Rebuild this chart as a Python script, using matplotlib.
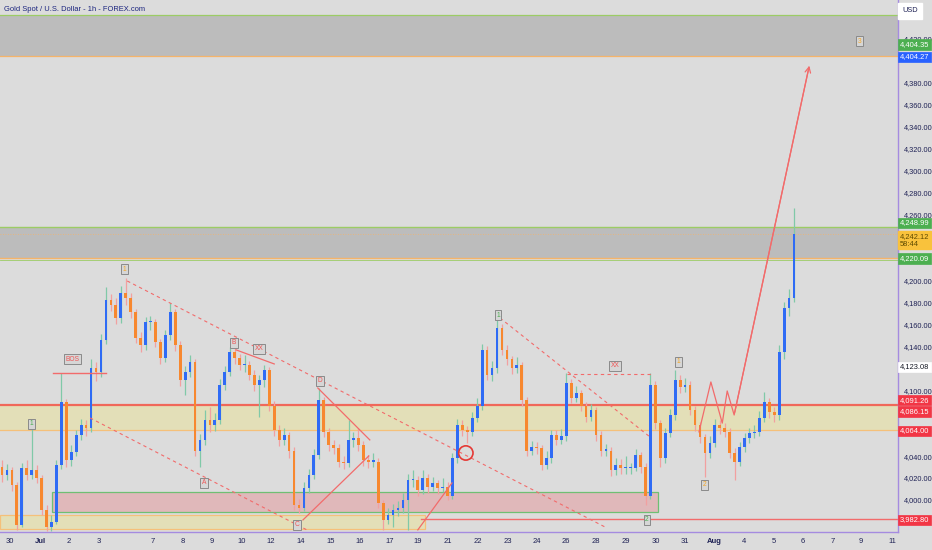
import numpy as np
import matplotlib.pyplot as plt
from matplotlib.patches import Rectangle, Ellipse
import matplotlib.transforms as mtrans

plt.rcParams['font.family'] = ['Liberation Sans', 'DejaVu Sans']

# Gold spot, 4h candles (Jun 30 .. Aug 5)
first_open = 4030
closes = [4023, 4027, 4014, 3977, 4029, 4023, 4027, 4020, 3991, 3975,
          3980, 4032, 4089, 4036, 4044, 4059, 4068, 4066, 4120, 4117,
          4146, 4182, 4178, 4166, 4189, 4184, 4171, 4148, 4141, 4162,
          4162, 4144, 4129, 4150, 4171, 4141, 4109, 4117, 4126, 4045,
          4055, 4073, 4068, 4073, 4105, 4117, 4135, 4129, 4123, 4123,
          4114, 4105, 4109, 4118, 4086, 4064, 4055, 4059, 4045, 3995,
          3993, 4011, 4023, 4041, 4091, 4062, 4050, 4047, 4035, 4034,
          4055, 4056, 4050, 4036, 4035, 4035, 3997, 3982, 3986, 3991,
          3993, 4000, 4018, 4018, 4009, 4020, 4012, 4015, 4011, 4012,
          4004, 4038, 4068, 4064, 4062, 4075, 4086, 4137, 4114, 4120,
          4157, 4137, 4128, 4120, 4123, 4091, 4045, 4048, 4047, 4032,
          4038, 4059, 4055, 4058, 4107, 4093, 4097, 4086, 4076, 4082,
          4059, 4045, 4045, 4027, 4032, 4029, 4029, 4029, 4041, 4030,
          4004, 4105, 4070, 4038, 4061, 4077, 4109, 4103, 4105, 4082,
          4068, 4057, 4043, 4052, 4068, 4066, 4062, 4043, 4035, 4048,
          4056, 4061, 4062, 4075, 4089, 4080, 4077, 4135, 4175, 4184,
          4242.12]
highs = [4036, 4033, 4030, 4016, 4034, 4036, 4068, 4032, 4023, 3995,
         3986, 4036, 4116, 4092, 4050, 4064, 4074, 4073, 4128, 4126,
         4151, 4194, 4188, 4184, 4195, 4202, 4189, 4174, 4153, 4167,
         4168, 4165, 4147, 4155, 4179, 4174, 4145, 4122, 4132, 4128,
         4060, 4082, 4085, 4079, 4110, 4122, 4139, 4139, 4133, 4132,
         4127, 4118, 4114, 4123, 4121, 4090, 4068, 4066, 4062, 4048,
         4001, 4016, 4028, 4046, 4102, 4094, 4066, 4055, 4051, 4040,
         4073, 4062, 4066, 4054, 4041, 4043, 4038, 4000, 3993, 3996,
         3999, 4006, 4024, 4027, 4022, 4027, 4024, 4021, 4018, 4020,
         4016, 4043, 4074, 4073, 4067, 4080, 4093, 4142, 4140, 4127,
         4167, 4160, 4141, 4131, 4130, 4126, 4094, 4054, 4053, 4050,
         4045, 4064, 4064, 4065, 4116, 4110, 4104, 4100, 4089, 4087,
         4085, 4063, 4051, 4048, 4038, 4037, 4040, 4034, 4046, 4044,
         4034, 4116, 4108, 4073, 4066, 4083, 4118, 4114, 4111, 4108,
         4086, 4071, 4060, 4058, 4074, 4073, 4070, 4066, 4047, 4053,
         4061, 4066, 4068, 4081, 4098, 4093, 4085, 4141, 4180, 4192,
         4266]
lows = [4016, 4018, 4008, 3973, 3975, 4018, 4019, 4015, 3986, 3972,
        3972, 3978, 4028, 4030, 4031, 4040, 4055, 4058, 4062, 4108,
        4112, 4142, 4172, 4160, 4161, 4178, 4166, 4143, 4135, 4137,
        4155, 4139, 4124, 4126, 4146, 4136, 4104, 4096, 4112, 4040,
        4030, 4050, 4062, 4063, 4069, 4100, 4113, 4124, 4118, 4117,
        4109, 4099, 4076, 4103, 4081, 4058, 4049, 4050, 4038, 3991,
        3988, 3990, 4006, 4019, 4037, 4057, 4045, 4042, 4030, 4028,
        4030, 4048, 4045, 4031, 4029, 4030, 3993, 3973, 3978, 3975,
        3985, 3988, 3973, 4012, 4004, 4005, 4006, 4008, 4005, 4007,
        4000, 4001, 4034, 4058, 4052, 4058, 4071, 4082, 4109, 4108,
        4116, 4132, 4123, 4115, 4116, 4086, 4040, 4041, 4042, 4027,
        4028, 4034, 4050, 4051, 4054, 4088, 4089, 4081, 4071, 4072,
        4054, 4040, 4040, 4022, 4023, 4024, 4024, 4024, 4026, 4025,
        3995, 4001, 4065, 4030, 4034, 4057, 4073, 4097, 4098, 4077,
        4063, 4052, 4021, 4038, 4048, 4060, 4057, 4038, 4018, 4031,
        4044, 4052, 4056, 4058, 4071, 4075, 4071, 4073, 4128, 4168,
        4180]

# date labels on the bar axis (4h bar index)
day_labels = ['30', 'Jul', '2', '3', '7', '8', '9', '10', '12', '14', '15', '16',
              '17', '19', '21', '22', '23', '24', '26', '28', '29', '30', '31',
              'Aug', '4', '5', '6', '7', '9', '11']
day_pos = [1.6, 7.7, 13.5, 19.6, 30.5, 36.6, 42.4, 48.5, 54.3, 60.4, 66.5, 72.3,
           78.4, 84.0, 90.1, 96.2, 102.2, 108.1, 113.9, 120.0, 126.1, 132.1, 138.0,
           143.8, 149.9, 156.0, 161.8, 167.9, 173.5, 179.8]

# price scale labels left visible (others sit under the price tags)
price_ticks = [4000, 4020, 4040, 4100, 4140, 4160, 4180, 4200, 4260, 4280,
               4300, 4320, 4340, 4360, 4380, 4420]

# zones (low, high)
top_zone = (4404.27, 4442)
sell_zone = (4220.09, 4248.99)
mid_zone = (4064.00, 4086.15)
pink_zone = (3989, 4007)
low_zone = (3973.5, 3986.3)
support = 3982.80

# right-side price tags: value, face colour, text colour, shown at
tags = [('4,404.35', '#4caf50', 'white', 4415.0),
        ('4,404.27', '#2962ff', 'white', 4403.6),
        ('4,248.99', '#4caf50', 'white', 4252.5),
        ('4,220.09', '#4caf50', 'white', 4220.0),
        ('4,123.08', 'white', '#131722', 4121.2),
        ('4,091.26', '#f23645', 'white', 4091.0),
        ('4,086.15', '#f23645', 'white', 4080.4),
        ('4,064.00', '#f23645', 'white', 4062.9),
        ('3,982.80', '#f23645', 'white', 3981.8)]

# wave / pattern labels on the chart
marks = [('1', 5.9, 4069.2, '#4caf50'), ('BOS', 14.3, 4128.4, '#f05555'),
         ('1', 24.8, 4210.4, '#f5a623'), ('B', 46.9, 4143.0, '#f05555'),
         ('XX', 51.9, 4137.6, '#f05555'), ('A', 40.8, 4015.5, '#f05555'),
         ('C', 59.6, 3977.2, '#f05555'), ('D', 64.2, 4108.4, '#f05555'),
         ('1', 100.2, 4168.5, '#4caf50'), ('XX', 123.8, 4122.1, '#f05555'),
         ('1', 136.6, 4125.7, '#f5a623'), ('2', 142.0, 4013.7, '#f5a623'),
         ('2', 130.3, 3981.8, '#4caf50'), ('3', 173.3, 4418.1, '#f5a623')]

bg = '#dcdcdc'
purple = '#a58be0'
red = '#f26b6b'

fig = plt.figure(figsize=(9.32, 5.5), dpi=100, facecolor=bg)
ax = fig.add_axes([0, 18 / 550, 898 / 932, 532 / 550], facecolor=bg)
ax.set_xlim(-0.4, 181.0)
ax.set_ylim(3970.8, 4455.5)

# zones
ax.axhspan(*top_zone, color='#bcbcbc', zorder=1, lw=0)
ax.axhline(top_zone[1], color='#9ccc65', lw=0.9, zorder=2)
ax.axhline(top_zone[0], color='#f5b46a', lw=0.9, zorder=2)
ax.axhspan(*sell_zone, color='#bcbcbc', zorder=1, lw=0)
ax.axhline(sell_zone[1], color='#9ccc65', lw=1.0, zorder=2)
ax.axhline(sell_zone[0], color='#f5b46a', lw=1.0, zorder=2)
ax.axhline(sell_zone[0] - 1.2, color='#9ccc65', lw=0.6, zorder=2)
ax.axhline(closes[-1], color='#f5b46a', lw=0.6, ls=(0, (1, 2)), zorder=2)
ax.axhspan(*mid_zone, color='#e3dfb8', zorder=1, lw=0)
ax.axhline(mid_zone[1], color='#f0685a', lw=1.6, zorder=2)
ax.axhline(mid_zone[0], color='#f5c07a', lw=0.9, zorder=2)
ax.add_patch(Rectangle((10.1, pink_zone[0]), 122.4, pink_zone[1] - pink_zone[0],
                       fc='#e0b8ba', ec='#6fbf73', lw=0.9, zorder=1.5))
ax.add_patch(Rectangle((-0.4, low_zone[0]), 85.9, low_zone[1] - low_zone[0],
                       fc='#e3dfb8', ec='#f5c07a', lw=0.9, zorder=1.2))
ax.plot([84.6, 181.0], [support, support], color=red, lw=1.0, zorder=2)

# candles
opens = [first_open] + closes[:-1]
idx = np.arange(len(closes))
o = np.array(opens, dtype=float)
c = np.array(closes, dtype=float)
up = c >= o
wick_col = np.where(up, '#80c9a8', '#f2a0a0')
body_col = np.where(up, '#2f6bf5', '#f7882f')
ax.vlines(idx, lows, highs, colors=wick_col, lw=0.9, zorder=3)
ax.bar(idx, np.maximum(np.abs(c - o), 1.0), bottom=np.minimum(o, c), width=0.55,
       color=body_col, zorder=4)

# drawings
dash = (0, (3, 3))
ax.plot([10.3, 21.0], [4116, 4116], color=red, lw=1.0, zorder=5)
ax.plot([25.3, 121.8], [4199.5, 3975.4], color=red, lw=0.8, ls=dash, zorder=5)
ax.plot([17.8, 61.6], [4074.7, 3972.7], color=red, lw=0.8, ls=dash, zorder=5)
ax.plot([100.6, 130.9], [4165.8, 4057.4], color=red, lw=0.8, ls=dash, zorder=5)
ax.plot([114.1, 131.5], [4115, 4115], color=red, lw=0.8, ls=dash, zorder=5)
ax.plot([47.3, 55.0], [4136.7, 4123.9], color=red, lw=0.9, zorder=5)
ax.plot([63.8, 74.3], [4102, 4054.7], color=red, lw=0.9, zorder=5)
ax.plot([60.8, 74.1], [3981.8, 4040.1], color=red, lw=0.9, zorder=5)
ax.plot([84.0, 90.9], [3972.7, 4015.5], color=red, lw=0.9, zorder=5)
ax.add_patch(Ellipse((93.7, 4042.8), 2.9, 13, fc='none', ec='#e53935', lw=1.2, zorder=6))

zig_x = [140.8, 143.2, 145.5, 146.5, 147.9, 163.0]
zig_y = [4062, 4107.5, 4070, 4099.3, 4077.4, 4394]
ax.plot(zig_x, zig_y, color=red, lw=0.9, zorder=5)
ax.annotate('', xy=(163.2, 4398.1), xytext=(zig_x[-2], zig_y[-2]),
            arrowprops=dict(arrowstyle='->', color=red, lw=0.9), zorder=5)

for txt, x, y, col in marks:
    ax.text(x, y, txt, color=col, fontsize=4.8, ha='center', va='center', zorder=7,
            bbox=dict(boxstyle='square,pad=0.25', fc='#d6d6d6', ec='#8a8a8a', lw=0.7))

ax.text(0.004, 0.982, 'Gold Spot / U.S. Dollar - 1h - FOREX.com', transform=ax.transAxes,
        fontsize=5.4, color='#1a237e', ha='left', va='center', zorder=8,
        family=['Liberation Sans Narrow', 'Liberation Sans', 'DejaVu Sans'])

# axes styling
for s in ['left', 'top']:
    ax.spines[s].set_visible(False)
ax.spines['right'].set_color(purple)
ax.spines['bottom'].set_color(purple)
ax.spines['right'].set_linewidth(1.0)
ax.spines['bottom'].set_linewidth(1.0)
ax.yaxis.tick_right()
ax.set_yticks(price_ticks)
ax.set_yticklabels([f'{v:,.2f}' for v in price_ticks])
ax.tick_params(axis='y', length=0, pad=4, labelsize=5.3, labelcolor='#1f2255')
ax.set_xticks(day_pos)
ax.set_xticklabels(day_labels)
ax.tick_params(axis='x', length=0, pad=4, labelsize=5.5, labelcolor='#1f2255')
for lab in ax.get_xticklabels():
    if lab.get_text() in ('Jul', 'Aug'):
        lab.set_fontweight('bold')

blend = mtrans.blended_transform_factory(ax.transAxes, ax.transData)
for txt, fc, tc, y in tags:
    ax.text(1.0022, y, txt, transform=blend, fontsize=5.4, color=tc, ha='left',
            va='center', zorder=9, clip_on=False,
            bbox=dict(boxstyle='square,pad=0.24', fc=fc, ec=fc, lw=0.5))
ax.text(1.0022, 4236.5, '4,242.12\n58:44', transform=blend, fontsize=5.4,
        color='#5d4a00', ha='left', va='center', zorder=9, clip_on=False,
        linespacing=1.1, bbox=dict(boxstyle='square,pad=0.24', fc='#f9c23c', ec='#f9c23c'))
fig.text(910 / 932, 1 - 11 / 550, 'USD', fontsize=5.3, color='#1f2255', ha='center',
         va='center', bbox=dict(boxstyle='square,pad=0.6', fc='white', ec='white'))

fig.savefig('out.png', dpi=100, facecolor=bg)
